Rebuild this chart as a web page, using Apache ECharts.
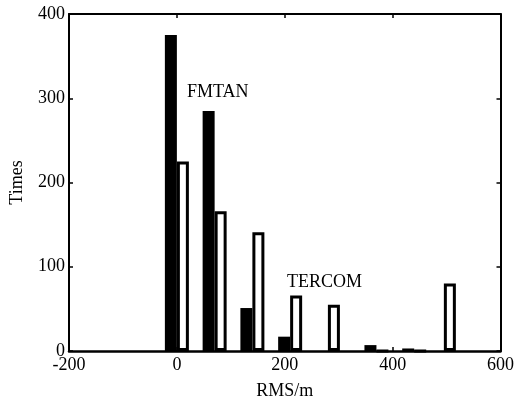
<!DOCTYPE html>
<html>
<head>
<meta charset="utf-8">
<script src="https://cdn.jsdelivr.net/npm/echarts@6/dist/echarts.min.js"></script>
<style>html,body{margin:0;padding:0;background:#fff}#c{width:517px;height:405px}</style>
</head>
<body>
<div id="c"></div>
<script>
// RMS bin positions (m)
var rmsBins = [0, 70, 140, 210, 280, 370, 440, 495];
// FMTAN counts (black bars)
var fmtanTimes = [375, 285, 51, 17, 0, 7, 3, 0];
// TERCOM counts (white bars)
var tercomTimes = [225, 166, 141, 66, 55, 0, 0, 80];
var xTicks = [-200, 0, 200, 400, 600];
var yTicks = [0, 100, 200, 300, 400];

var font = '"Liberation Serif", "DejaVu Serif", serif';
var fw = 'normal';
function pairs(xs, ys) { return xs.map(function (x, i) { return [x, ys[i]]; }); }

var chart = echarts.init(document.getElementById('c'), null, {renderer: 'canvas'});
chart.setOption({
  animation: false,
  backgroundColor: '#fff',
  grid: {left: 65, right: 12, top: 14, bottom: 52, show: false},
  xAxis: [{
    type: 'value', min: xTicks[0], max: xTicks[xTicks.length - 1], interval: 200,
    name: 'RMS/m', nameLocation: 'middle', nameGap: 31,
    nameTextStyle: {fontFamily: font, fontSize: 18, fontWeight: fw, color: '#000'},
    axisLine: {onZero: false, lineStyle: {color: '#000', width: 2.5}},
    axisTick: {inside: true, length: 4, lineStyle: {color: '#000', width: 1.5}},
    axisLabel: {fontFamily: font, fontSize: 18, fontWeight: fw, color: '#000', margin: 5},
    splitLine: {show: false}
  }, {
    type: 'value', position: 'top', min: -200, max: 600, interval: 200,
    axisLine: {show: true, onZero: false, lineStyle: {color: '#000', width: 2}},
    axisTick: {inside: true, length: 4, lineStyle: {color: '#000', width: 1.5}},
    axisLabel: {show: false}, splitLine: {show: false}
  }],
  yAxis: [{
    type: 'value', min: yTicks[0], max: yTicks[yTicks.length - 1], interval: 100,
    name: 'Times', nameLocation: 'middle', nameGap: 43, nameRotate: 90,
    nameTextStyle: {fontFamily: font, fontSize: 18, fontWeight: fw, color: '#000'},
    axisLine: {show: true, onZero: false, lineStyle: {color: '#000', width: 2}},
    axisTick: {show: true, inside: true, length: 4, lineStyle: {color: '#000', width: 1.5}},
    axisLabel: {fontFamily: font, fontSize: 18, fontWeight: fw, color: '#000', margin: 4},
    splitLine: {show: false}
  }, {
    type: 'value', position: 'right', min: 0, max: 400, interval: 100,
    axisLine: {show: true, onZero: false, lineStyle: {color: '#000', width: 2}},
    axisTick: {show: true, inside: true, length: 4, lineStyle: {color: '#000', width: 1.5}},
    axisLabel: {show: false}, splitLine: {show: false}
  }],
  series: [{
    name: 'FMTAN', type: 'bar', xAxisIndex: 0, yAxisIndex: 0,
    data: pairs(rmsBins, fmtanTimes),
    barWidth: 12, barGap: '0%',
    itemStyle: {color: '#000'}
  }, {
    name: 'TERCOM', type: 'bar', xAxisIndex: 0, yAxisIndex: 0,
    data: pairs(rmsBins, tercomTimes),
    barWidth: 12, barGap: '0%',
    itemStyle: {color: '#fff', borderColor: '#000', borderWidth: 3}
  }],
  graphic: [{
    type: 'text', left: 187, top: 83,
    style: {text: 'FMTAN', font: fw + ' 18px ' + font, fill: '#000'}
  }, {
    type: 'text', left: 287, top: 273,
    style: {text: 'TERCOM', font: fw + ' 18px ' + font, fill: '#000'}
  }]
});
</script>
</body>
</html>
